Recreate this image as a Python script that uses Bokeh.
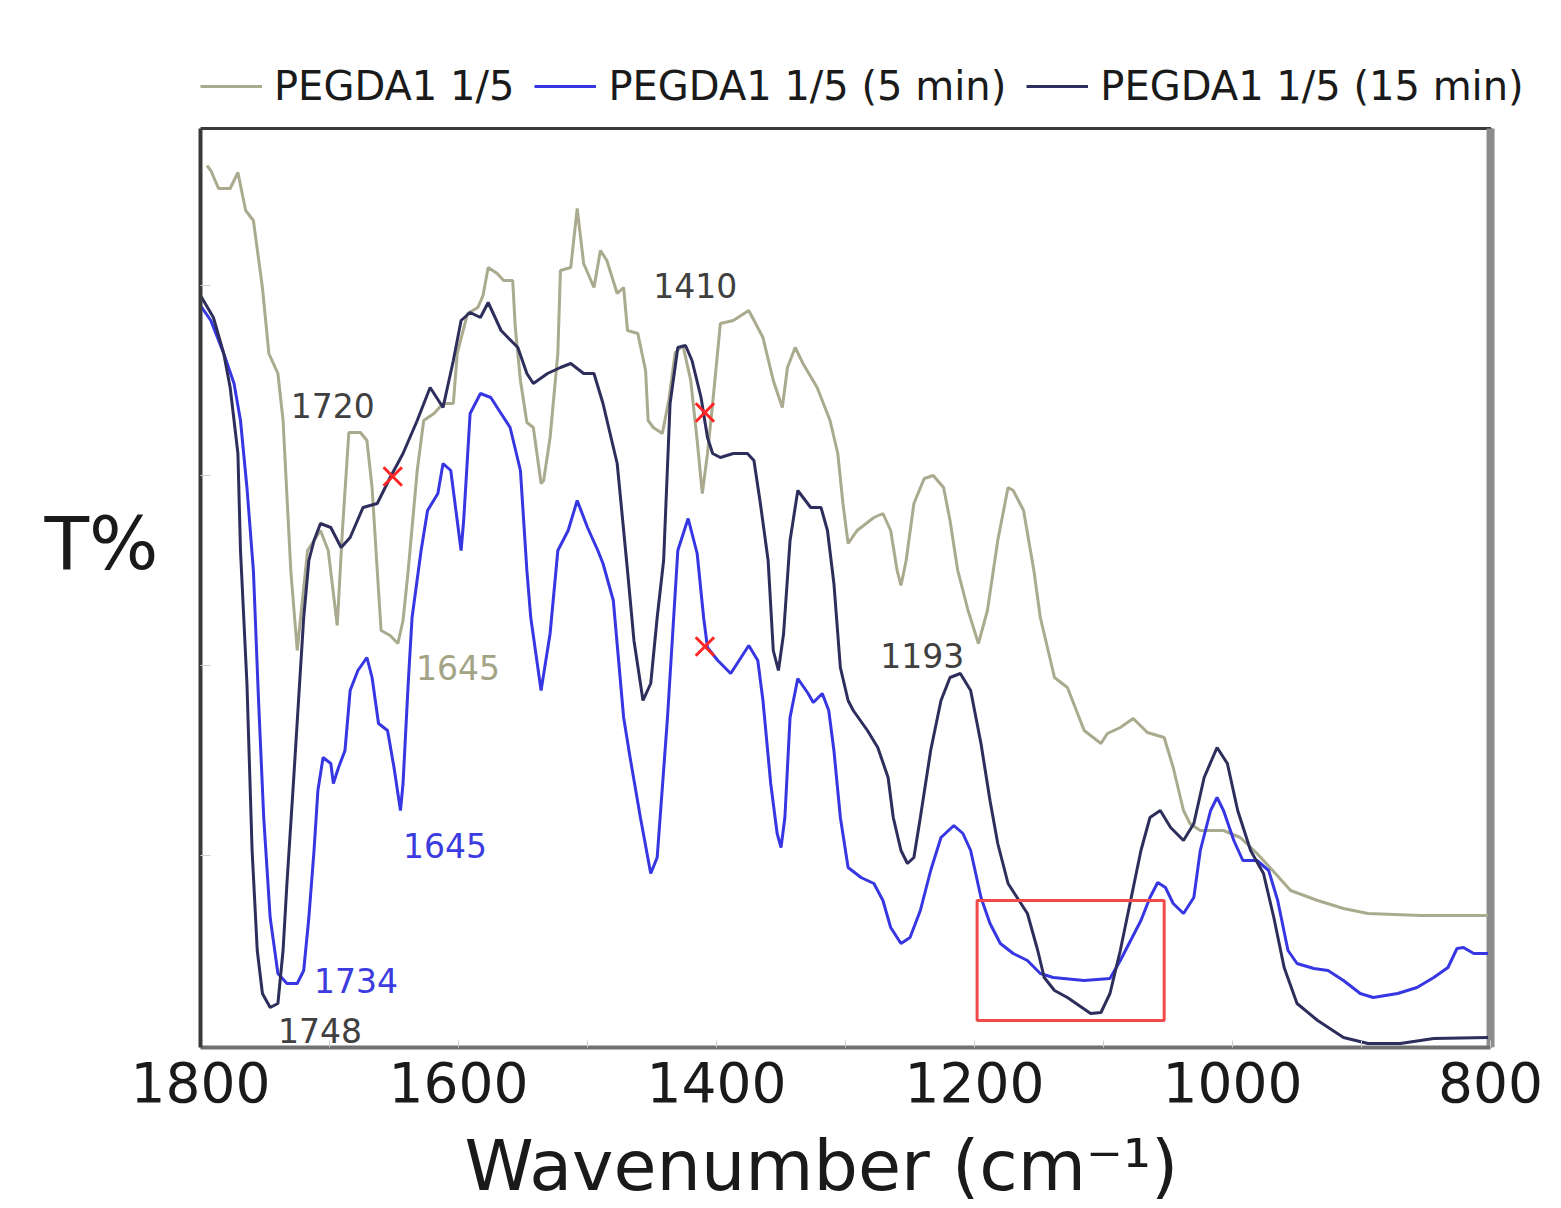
from bokeh.plotting import figure
from bokeh.models import Range1d, Label, Legend, LegendItem, FixedTicker
from bokeh.embed import file_html
from bokeh.resources import INLINE

# ---- data (wavenumber cm^-1, transmittance, arbitrary units) ----
raw_wn = [1795,1792,1786,1777,1771,1765,1759,1752,1747,1740,
          1736,1730,1725,1717,1707,1701,1694,1690,1685,1676,
          1671,1667,1663,1660,1653,1647,1643,1639,1632,1627,
          1619,1612,1604,1601,1593,1585,1581,1577,1570,1565,
          1558,1556,1552,1547,1542,1536,1534,1529,1523,1521,
          1513,1508,1503,1495,1490,1485,1477,1472,1469,1461,
          1455,1453,1449,1442,1437,1432,1426,1420,1415,1411,
          1407,1403,1397,1387,1381,1375,1364,1356,1349,1345,
          1339,1333,1322,1312,1306,1302,1298,1291,1278,1271,
          1265,1260,1257,1253,1247,1239,1232,1224,1219,1213,
          1205,1197,1190,1182,1174,1170,1162,1154,1149,1138,
          1128,1115,1102,1097,1087,1077,1066,1053,1046,1038,
          1033,1025,1007,994,981,971,955,934,914,895,
          854,802]
raw_T = [88.2,87.7,85.9,85.9,87.5,83.7,82.7,76.0,69.4,67.4,
         62.7,47.7,39.7,49.7,51.7,49.7,42.2,51.7,61.5,61.5,
         60.7,56.0,47.7,41.7,41.2,40.4,42.7,47.7,57.7,62.7,
         63.4,64.4,64.4,69.4,73.4,74.0,75.2,78.0,77.4,76.7,
         76.7,72.0,66.7,62.5,62.0,56.4,56.7,61.0,69.4,77.7,
         78.0,83.9,78.4,76.0,79.7,78.7,75.4,76.0,71.7,71.4,
         67.7,62.7,62.0,61.4,64.7,69.5,70.2,66.7,60.7,55.4,
         59.4,64.4,72.4,72.7,73.2,73.7,71.0,66.7,64.0,68.0,
         70.0,68.4,66.0,62.7,59.4,54.4,50.4,51.7,53.0,53.4,
         51.7,47.7,46.2,48.7,54.4,56.9,57.2,56.0,52.7,47.7,
         43.7,40.4,43.7,50.7,56.0,55.7,53.7,47.7,43.0,37.0,
         36.0,31.7,30.4,31.4,32.0,32.9,31.5,31.0,28.0,23.7,
         22.4,21.7,21.7,21.0,19.4,18.0,15.7,14.7,13.9,13.4,
         13.2,13.2]

min5_wn = [1800,1792,1782,1774,1769,1764,1759,1755,1751,1746,
           1740,1733,1725,1720,1716,1712,1709,1705,1699,1697,
           1693,1688,1684,1678,1671,1667,1662,1655,1650,1645,
           1643,1639,1636,1629,1624,1616,1612,1606,1601,1598,
           1596,1591,1583,1575,1567,1560,1552,1547,1544,1536,
           1529,1523,1515,1508,1500,1492,1488,1480,1472,1467,
           1459,1451,1446,1438,1430,1422,1415,1410,1407,1399,
           1389,1381,1375,1368,1364,1358,1353,1350,1347,1343,
           1337,1329,1325,1318,1313,1309,1304,1298,1288,1278,
           1271,1265,1257,1250,1242,1234,1226,1216,1209,1203,
           1195,1188,1180,1170,1159,1149,1139,1115,1095,1087,
           1079,1071,1064,1058,1052,1046,1038,1030,1025,1017,
           1012,1007,999,992,981,972,965,957,950,937,
           926,914,901,891,872,857,844,833,826,821,
           813,802]
min5_T = [74.2,72.7,69.4,66.4,62.7,56.0,47.7,34.7,23.0,13.0,
          7.4,6.4,6.4,7.7,13.0,19.7,25.7,29.0,28.4,26.4,
          28.0,29.7,35.7,37.7,39.0,37.0,32.4,31.7,28.0,23.7,
          26.4,36.4,43.0,49.7,53.7,55.4,58.4,57.7,52.7,49.7,
          52.7,63.4,65.4,65.0,63.4,62.0,57.7,47.7,43.0,35.7,
          41.4,49.7,51.7,54.7,52.0,49.7,48.4,44.7,33.0,29.0,
          23.0,17.4,19.0,33.0,49.7,52.9,49.4,43.0,40.0,38.7,
          37.4,39.0,40.2,38.7,34.7,26.4,21.4,20.0,23.0,33.0,
          36.9,35.4,34.5,35.4,33.7,29.7,23.0,18.0,17.0,16.4,
          14.7,12.0,10.4,11.0,13.7,17.7,21.0,22.2,21.4,19.7,
          15.0,12.4,10.4,9.4,8.7,7.4,7.0,6.7,6.9,8.7,
          10.7,12.7,15.0,16.5,16.0,14.4,13.4,15.0,19.7,23.7,
          25.0,23.7,20.7,18.7,18.7,17.7,14.7,9.7,8.4,7.9,
          7.7,6.7,5.4,5.0,5.4,6.0,7.0,8.0,9.9,10.0,
          9.4,9.4]

min15_wn = [1800,1790,1782,1777,1771,1769,1764,1760,1756,1752,
            1746,1740,1736,1733,1728,1724,1720,1716,1712,1707,
            1699,1691,1684,1674,1663,1653,1643,1632,1622,1612,
            1604,1598,1591,1583,1577,1567,1554,1547,1542,1531,
            1521,1513,1503,1495,1488,1477,1469,1464,1457,1451,
            1446,1441,1436,1430,1424,1419,1412,1407,1403,1397,
            1387,1376,1371,1366,1360,1356,1352,1348,1343,1337,
            1327,1319,1314,1309,1304,1298,1294,1283,1275,1267,
            1263,1257,1252,1247,1242,1234,1226,1219,1211,1203,
            1195,1188,1182,1174,1167,1159,1151,1146,1138,1128,
            1110,1102,1095,1087,1079,1071,1064,1056,1048,1038,
            1030,1022,1012,1004,996,986,976,968,960,950,
            934,914,895,870,844,802]
min15_T = [75.2,73.0,69.4,66.0,59.4,49.7,36.4,19.7,9.7,5.4,
           4.0,4.4,9.7,16.4,26.4,34.7,43.0,48.7,50.7,52.4,
           52.0,50.0,51.0,54.0,54.4,57.0,59.4,62.7,66.0,64.0,
           68.7,72.7,73.5,73.0,74.5,71.7,70.0,67.4,66.4,67.4,
           68.0,68.4,67.4,67.4,64.4,58.4,47.7,40.7,34.7,36.4,
           43.0,48.7,64.4,70.0,70.2,68.7,65.0,61.0,59.4,59.0,
           59.4,59.4,58.7,54.4,48.7,39.7,37.7,41.4,50.7,55.7,
           54.0,54.0,51.7,46.4,38.0,34.7,33.7,31.7,30.0,27.0,
           23.0,19.7,18.4,19.0,23.0,29.7,34.7,37.0,37.4,35.7,
           30.4,24.7,20.4,16.4,15.0,13.4,9.7,7.0,5.7,5.0,
           3.4,3.5,5.4,9.7,14.7,19.7,23.0,23.7,22.0,20.7,
           22.4,27.0,30.0,28.4,23.7,19.7,17.4,13.0,8.0,4.4,
           2.7,1.0,0.4,0.4,0.9,1.0]

series_names = ["PEGDA1 1/5", "PEGDA1 1/5 (5 min)", "PEGDA1 1/5 (15 min)"]
x_ticks = [1800, 1600, 1400, 1200, 1000, 800]
x_minor = [1700, 1500, 1300, 1100, 900]
y_ticks = [19.2, 38.2, 57.2, 76.2]
x_title = "Wavenumber (cm\u207b\u00b9)" + "\u00a0" * 5
y_title = "T%"

# plotted-box limits (data units)
x_lo, x_hi = 1800, 800
y_lo, y_hi = 0, 91.9

# peak annotations
peak_text = ["1720", "1645", "1645", "1734", "1748", "1410", "1193"]
peak_x = [1730, 1633, 1643, 1712, 1740, 1449, 1273]
peak_y = [64.2, 38.0, 20.2, 6.7, 1.7, 76.2, 39.2]
peak_col = ["#404040", "#a3a385", "#3b3be0", "#3b3be0", "#404040", "#404040", "#404040"]

# red crosses (vanished C=C bands)
cross_x = [1651, 1409, 1409]
cross_y = [57.1, 63.5, 40.1]

# highlighted region
box_left, box_right, box_bottom, box_top = 1198, 1053, 2.7, 14.7

KHAKI = "#aaaa8e"
BLUE = "#3636e2"
NAVY = "#2e2e5c"
FONT = "DejaVu Sans"

# frame extends above / right of the plotted box so the legend can sit there
p = figure(frame_width=1353, frame_height=1009, output_backend="svg", toolbar_location=None,
           x_range=Range1d(x_lo, 751.2), y_range=Range1d(y_lo, 100.9),
           min_border_left=200, min_border_right=0, min_border_top=38,
           min_border_bottom=120)
p.background_fill_color = "white"
p.border_fill_color = "white"
p.xgrid.visible = False
p.ygrid.visible = False
p.outline_line_color = None

# plot box: dark top, thick grey right edge
p.quad(left=[x_lo], right=[x_hi], bottom=[y_lo], top=[y_hi],
       fill_color=None, line_color="#3a3a3a", line_width=3)
p.segment(x0=[x_hi], y0=[y_lo], x1=[x_hi], y1=[y_hi], line_color="#8c8c8c", line_width=8)

r_raw = p.line(raw_wn, raw_T, line_color=KHAKI, line_width=3)
r_5 = p.line(min5_wn, min5_T, line_color=BLUE, line_width=3)
r_15 = p.line(min15_wn, min15_T, line_color=NAVY, line_width=3)

p.scatter(cross_x, cross_y, marker="x", size=26, line_color="#ff2626", line_width=3)
p.quad(left=[box_left], right=[box_right], bottom=[box_bottom], top=[box_top],
       fill_color=None, line_color="#f24a4a", line_width=3)

for t, x, y, c in zip(peak_text, peak_x, peak_y, peak_col):
    p.add_layout(Label(x=x, y=y, text=t, text_color=c, text_font=FONT,
                       text_font_size="33px", text_align="left", text_baseline="alphabetic"))

# x axis
xa = p.xaxis[0]
xa.bounds = (x_lo, x_hi)
xa.ticker = FixedTicker(ticks=x_ticks, minor_ticks=x_minor)
xa.major_label_text_font = FONT
xa.major_label_text_font_size = "55px"
xa.major_label_text_color = "#1a1a1a"
xa.major_label_standoff = 14
xa.major_tick_out = 0
xa.major_tick_in = 7
xa.minor_tick_out = 0
xa.minor_tick_in = 7
xa.major_tick_line_color = "#cccccc"
xa.minor_tick_line_color = "#cccccc"
xa.axis_line_color = "#707070"
xa.axis_line_width = 4
xa.axis_label = x_title
xa.axis_label_text_font = FONT
xa.axis_label_text_font_size = "70px"
xa.axis_label_text_font_style = "normal"
xa.axis_label_text_color = "#1a1a1a"
xa.axis_label_standoff = 20

ya = p.yaxis[0]
ya.bounds = (y_lo, y_hi)
ya.ticker = FixedTicker(ticks=y_ticks)
ya.major_label_text_color = None
ya.major_label_text_font_size = "1px"
ya.major_label_standoff = 0
ya.major_tick_out = 0
ya.major_tick_in = 10
ya.major_tick_line_color = "#d0d0d0"
ya.minor_tick_line_color = None
ya.axis_line_color = "#3a3a3a"
ya.axis_line_width = 4
ya.axis_label = y_title
ya.axis_label_orientation = "horizontal"
ya.axis_label_text_font = FONT
ya.axis_label_text_font_size = "73px"
ya.axis_label_text_font_style = "normal"
ya.axis_label_text_color = "#1a1a1a"
ya.axis_label_standoff = 42

legend = Legend(items=[LegendItem(label=series_names[0], renderers=[r_raw]),
                       LegendItem(label=series_names[1], renderers=[r_5]),
                       LegendItem(label=series_names[2], renderers=[r_15])],
                orientation="horizontal", location=(0, 938),
                glyph_width=62, glyph_height=40, label_standoff=12, spacing=20,
                padding=0, margin=0, border_line_color=None, background_fill_alpha=0,
                label_text_font=FONT, label_text_font_size="40px",
                label_text_color="#1a1a1a")
p.add_layout(legend, "center")

open("out.html", "w").write(file_html(p, INLINE))
